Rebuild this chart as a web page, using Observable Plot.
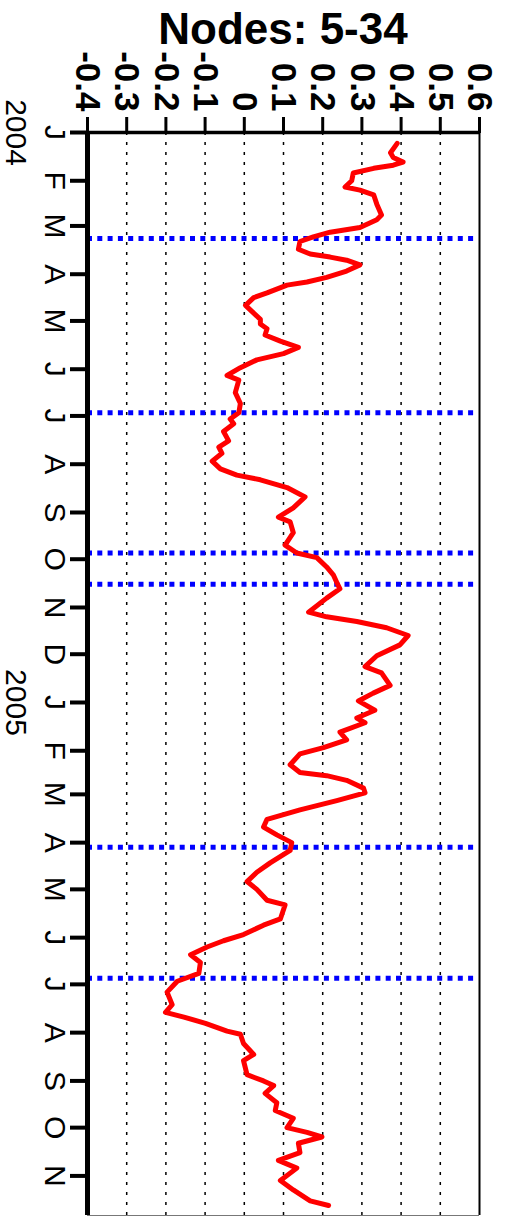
<!DOCTYPE html>
<html><head><meta charset="utf-8">
<script src="https://cdn.jsdelivr.net/npm/d3@7"></script>
<script src="https://cdn.jsdelivr.net/npm/@observablehq/plot@0.6"></script>
<style>
html,body{margin:0;padding:0;background:#fff;}
#wrap{position:relative;width:505px;height:1217px;overflow:hidden;}
#title{position:absolute;left:87px;width:392px;top:7px;text-align:center;font:bold 44px/44px "Liberation Sans",Arial,sans-serif;color:#000;white-space:nowrap;z-index:2;}
</style></head><body>
<div id="wrap"></div>
<script>
const title = "Nodes: 5-34";
const dates = [
"2004-01-08","2004-01-14","2004-01-17","2004-01-20","2004-01-22","2004-01-24","2004-01-27","2004-02-01","2004-02-05","2004-02-07",
"2004-02-10","2004-02-16","2004-02-23","2004-02-26","2004-03-02","2004-03-05","2004-03-08","2004-03-11","2004-03-16","2004-03-19",
"2004-03-21","2004-03-23","2004-03-26","2004-03-30","2004-04-03","2004-04-06","2004-04-08","2004-04-13","2004-04-16","2004-04-21",
"2004-04-25","2004-04-30","2004-05-03","2004-05-06","2004-05-10","2004-05-14","2004-05-18","2004-05-22","2004-05-26","2004-05-31",
"2004-06-05","2004-06-08","2004-06-16","2004-06-23","2004-06-29","2004-07-03","2004-07-06","2004-07-11","2004-07-17","2004-07-21",
"2004-07-25","2004-07-30","2004-08-04","2004-08-08","2004-08-11","2004-08-16","2004-08-22","2004-08-29","2004-09-04","2004-09-07",
"2004-09-14","2004-09-22","2004-09-27","2004-09-30","2004-10-06","2004-10-11","2004-10-16","2004-10-20","2004-10-26","2004-11-04",
"2004-11-07","2004-11-10","2004-11-14","2004-11-19","2004-11-25","2004-12-02","2004-12-09","2004-12-13","2004-12-21","2004-12-26",
"2004-12-31","2005-01-06","2005-01-11","2005-01-14","2005-01-20","2005-01-25","2005-01-30","2005-02-03","2005-02-10","2005-02-15",
"2005-02-17","2005-02-20","2005-02-25","2005-02-28","2005-03-05","2005-03-11","2005-03-17","2005-03-22","2005-03-27","2005-04-01",
"2005-04-06","2005-04-14","2005-04-20","2005-04-26","2005-05-01","2005-05-08","2005-05-11","2005-05-20","2005-05-24","2005-05-30",
"2005-06-03","2005-06-07","2005-06-12","2005-06-17","2005-06-24","2005-06-29","2005-07-06","2005-07-14","2005-07-19","2005-07-22",
"2005-07-26","2005-07-31","2005-08-02","2005-08-08","2005-08-15","2005-08-19","2005-08-28","2005-09-01","2005-09-04","2005-09-09",
"2005-09-15","2005-09-20","2005-09-25","2005-10-01","2005-10-04","2005-10-07","2005-10-11","2005-10-17","2005-10-22","2005-10-27",
"2005-11-04","2005-11-10","2005-11-17","2005-11-20"];
const values = [
0.39,0.373,0.38,0.405,0.38,0.33,0.278,0.274,0.257,0.295,
0.33,0.338,0.35,0.338,0.295,0.219,0.176,0.142,0.138,0.168,
0.219,0.261,0.295,0.261,0.21,0.16,0.109,0.058,0.024,0.003,
0.02,0.041,0.041,0.058,0.053,0.092,0.138,0.1,0.032,-0.01,
-0.044,-0.014,-0.023,-0.01,-0.014,-0.036,-0.027,-0.053,-0.04,-0.065,
-0.057,-0.082,-0.061,-0.019,0.041,0.109,0.155,0.125,0.087,0.117,
0.125,0.104,0.134,0.185,0.21,0.227,0.236,0.244,0.21,0.164,
0.21,0.287,0.363,0.418,0.397,0.338,0.308,0.35,0.372,0.329,
0.291,0.333,0.287,0.308,0.244,0.261,0.202,0.142,0.117,0.142,
0.21,0.261,0.304,0.308,0.236,0.142,0.058,0.049,0.083,0.121,
0.117,0.066,0.032,0.007,0.032,0.058,0.104,0.092,0.049,-0.002,
-0.053,-0.095,-0.137,-0.112,-0.116,-0.171,-0.197,-0.184,-0.201,-0.154,
-0.099,-0.044,-0.01,-0.002,0.024,-0.002,0.007,0.049,0.075,0.053,
0.083,0.079,0.125,0.109,0.16,0.198,0.138,0.142,0.087,0.134,
0.092,0.125,0.168,0.215];
const eventDates = ["2004-03-09","2004-06-29","2004-09-27","2004-10-17","2005-04-04","2005-06-27"];
const monthTicks = ["2004-01-01","2004-02-01","2004-03-01","2004-04-01","2004-05-01","2004-06-01","2004-07-01","2004-08-01","2004-09-01","2004-10-01","2004-11-01","2004-12-01",
"2005-01-01","2005-02-01","2005-03-01","2005-04-01","2005-05-01","2005-06-01","2005-07-01","2005-08-01","2005-09-01","2005-10-01","2005-11-01"];
const monthLabels = ["J","F","M","A","M","J","J","A","S","O","N","D","J","F","M","A","M","J","J","A","S","O","N"];
const yearTicks = ["2004-01-01","2005-01-01"];
const yearLabels = ["2004","2005"];
const valueTicks = [-0.4,-0.3,-0.2,-0.1,0,0.1,0.2,0.3,0.4,0.5,0.6];
const valueLabels = ["-0.4","-0.3","-0.2","-0.1","0","0.1","0.2","0.3","0.4","0.5","0.6"];
const gridValues = [-0.3,-0.2,-0.1,0,0.1,0.2,0.3,0.4,0.5];

const points = dates.map((d, i) => ({date: new Date(d), value: values[i]}));
const events = eventDates.map(d => new Date(d));
const months = monthTicks.map(d => new Date(d));
const years = yearTicks.map(d => new Date(d));
const yStart = new Date("2004-01-01T00:00:00Z");
const yEnd = new Date("2005-11-26T10:00:00Z");

const chart = Plot.plot({
  width: 505,
  height: 1217,
  marginTop: 132,
  marginBottom: 2,
  marginLeft: 87,
  marginRight: 26,
  style: {fontFamily: "'Liberation Sans', Arial, sans-serif", background: "#fff", color: "#000", overflow: "visible"},
  x: {domain: [-0.4, 0.6]},
  y: {type: "utc", domain: [yStart, yEnd], reverse: true},
  marks: [
    Plot.ruleX(gridValues, {x: d => d, stroke: "#000", strokeWidth: 1.5, strokeDasharray: "3,7"}),
    Plot.ruleY(events, {y: d => d, x1: -0.4, x2: 0.59, stroke: "#0000ff", strokeWidth: 5, strokeDasharray: "5,5.3"}),
    Plot.line(points, {x: "value", y: "date", stroke: "#ff0000", strokeWidth: 5, strokeLinejoin: "round", strokeLinecap: "round"}),
    Plot.ruleX([-0.4], {x: d => d, stroke: "#000", strokeWidth: 5}),
    Plot.ruleX([0.6], {x: d => d, stroke: "#000", strokeWidth: 2}),
    Plot.ruleY([yStart], {y: d => d, stroke: "#000", strokeWidth: 3.5}),
    Plot.ruleY([yEnd], {y: d => d, stroke: "#777", strokeWidth: 1}),
    Plot.axisX(valueTicks, {anchor: "top", tickSize: 16, strokeWidth: 3, fill: "none", label: null}),
    Plot.axisY(months, {anchor: "left", tickSize: 17, strokeWidth: 4, fill: "none", label: null}),
    Plot.text(valueTicks, {x: d => d, text: (d, i) => valueLabels[i], frameAnchor: "top", dy: -21, rotate: 90, textAnchor: "end", lineAnchor: "middle", fontSize: 35, fontWeight: "bold", fill: "#000"}),
    Plot.text(months, {y: d => d, text: (d, i) => monthLabels[i], frameAnchor: "left", dx: -21, rotate: 90, textAnchor: "middle", lineAnchor: "top", fontSize: 30, fill: "#000"}),
    Plot.text(years, {y: d => d, text: (d, i) => yearLabels[i], frameAnchor: "left", dx: -60, rotate: 90, textAnchor: "middle", lineAnchor: "top", fontSize: 30, fill: "#000"})
  ]
});
const wrap = document.getElementById("wrap");
wrap.appendChild(chart);
const t = document.createElement("div");
t.id = "title";
t.textContent = title;
wrap.appendChild(t);
</script>
</body></html>
